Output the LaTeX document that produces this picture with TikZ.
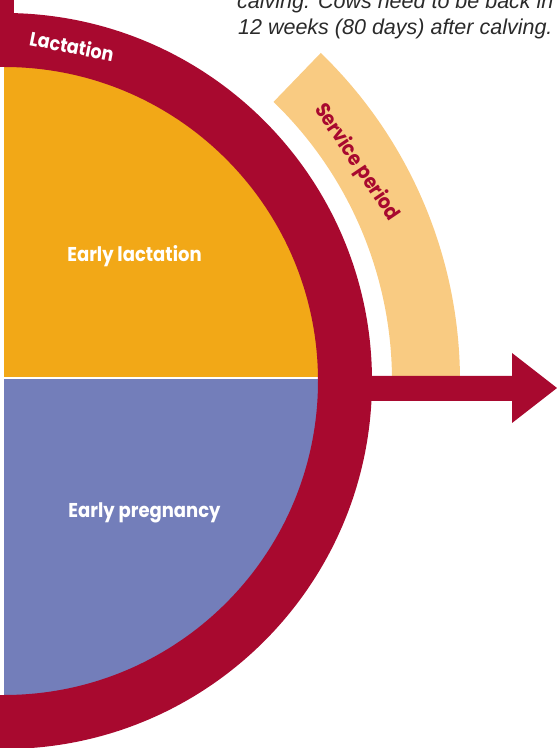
\documentclass[tikz,border=0pt]{standalone}
\usepackage{fontspec}
\setmainfont{Liberation Sans}
\newfontfamily\labfont{Poppins}
\definecolor{ringred}{HTML}{A8092F}
\definecolor{earlyorange}{HTML}{F2A817}
\definecolor{pregpurple}{HTML}{737EBA}
\definecolor{servlight}{HTML}{F9CB82}
\definecolor{toptext}{HTML}{2A2A2A}
\newcommand{\labtxt}[2][20]{\scalebox{0.9}[1]{\labfont\bfseries\fontsize{#1}{#1}\selectfont #2}}
\tikzset{
  lab/.style={text=white, inner sep=0pt, anchor=base},
  note/.style={font=\itshape\fontsize{21.5}{26}\selectfont, text=toptext, inner sep=0pt, anchor=base west},
}
\begin{document}
\begin{tikzpicture}[x=1pt,y=1pt]
\useasboundingbox (0,0) rectangle (557,748);
\clip (0,0) rectangle (557,748);
\coordinate (C) at (4,367);
% inner halves
\begin{scope}
  \clip (C) circle[radius=316];
  \fill[earlyorange] (4,371) rectangle (340,700);
  \fill[pregpurple] (4,369) rectangle (340,30);
\end{scope}
% service period band
\fill[servlight] ([shift={(0:388)}]C) arc[start angle=0,end angle=46,radius=388]
  -- ([shift={(46:456)}]C) arc[start angle=46,end angle=0,radius=456] -- cycle;
% red ring
\fill[ringred] ([shift={(90:368)}]C) arc[start angle=90,end angle=-90,radius=368]
  -- ([shift={(-90:314)}]C) arc[start angle=-90,end angle=90,radius=314] -- cycle;
\fill[ringred] (0,681) rectangle (14,748);
\fill[ringred] (0,0) rectangle (4,53);
% arrow
\fill[ringred] (355,347) -- (512,347) -- (512,325) -- (557,360) -- (512,395) -- (512,372) -- (355,372) -- cycle;
% labels
\node[lab] (el) at (134.5,486) {\labtxt{Early lactation}};
\node[lab] (ep) at (144.5,230) {\labtxt{Early pregnancy}};
\node[lab, rotate=-11.3] (lac) at (70.5,694.5) {\labtxt[19.5]{Lactation}};
\node[lab, text=ringred, rotate=-56] (sp) at (352,582.5) {\labtxt[20.5]{Service period}};
% top note
\node[note] (n1) at (237,739) {calving. Cows need to be back in calf};
\node[note] (n2) at (238,713) {12 weeks (80 days) after calving.};
\end{tikzpicture}
\end{document}
